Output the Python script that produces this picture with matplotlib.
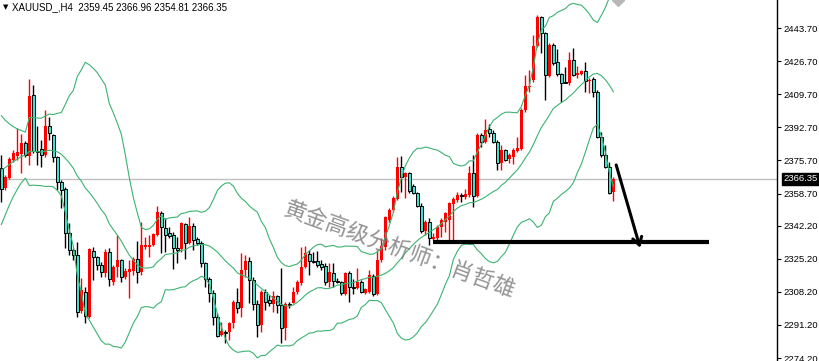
import numpy as np
import pandas as pd
import matplotlib
matplotlib.use("Agg")
import matplotlib.pyplot as plt

# XAUUSD H4 candles (oldest -> newest)
opens = [2371.8, 2361.5, 2366.7, 2375.9, 2378.0, 2379.0, 2384.7, 2378.0, 2409.3, 2380.5,
         2381.6, 2378.5, 2393.4, 2388.8, 2377.5, 2364.6, 2361.0, 2338.4, 2329.7, 2327.1,
         2298.4, 2308.1, 2295.3, 2329.2, 2326.1, 2322.0, 2317.9, 2328.7, 2313.3, 2321.0,
         2324.6, 2315.8, 2318.4, 2318.9, 2325.1, 2318.4, 2331.2, 2331.2, 2332.3, 2337.4,
         2348.7, 2341.0, 2338.4, 2337.4, 2330.7, 2330.2, 2343.0, 2333.3, 2342.0, 2335.3,
         2333.3, 2323.0, 2314.8, 2307.6, 2295.3, 2286.0, 2287.6, 2287.6, 2292.2, 2303.0,
         2299.9, 2319.4, 2324.1, 2314.3, 2302.0, 2291.2, 2308.1, 2304.0, 2302.0, 2306.1,
         2301.5, 2289.6, 2302.0, 2302.5, 2308.1, 2312.8, 2321.0, 2327.6, 2324.1, 2324.1,
         2322.5, 2321.5, 2313.3, 2317.9, 2313.8, 2313.3, 2307.1, 2317.9, 2310.7, 2310.2,
         2313.3, 2307.6, 2308.1, 2316.4, 2307.1, 2324.6, 2331.2, 2345.1, 2350.2, 2355.9,
         2372.3, 2367.2, 2369.2, 2362.6, 2359.0, 2352.3, 2339.5, 2344.1, 2335.3, 2335.9,
         2341.5, 2344.1, 2345.1, 2353.3, 2355.4, 2357.9, 2356.9, 2357.9, 2369.2, 2357.4,
         2388.8, 2385.2, 2391.8, 2389.8, 2385.2, 2374.4, 2381.1, 2376.4, 2377.5, 2380.5,
         2381.6, 2401.6, 2413.4, 2417.0, 2434.5, 2449.4, 2441.1, 2419.1, 2435.0, 2426.3,
         2420.1, 2416.0, 2415.5, 2427.3, 2419.6, 2420.1, 2421.6, 2416.5, 2417.5, 2410.9,
         2387.7, 2378.5, 2372.3, 2359.45]
highs = [2378.5, 2368.2, 2377.5, 2381.1, 2392.4, 2389.3, 2385.7, 2417.5, 2414.4, 2393.4,
         2386.2, 2401.6, 2398.0, 2389.3, 2378.0, 2365.7, 2362.0, 2343.6, 2330.7, 2333.8,
         2315.3, 2310.7, 2330.7, 2331.2, 2326.6, 2323.5, 2330.2, 2330.7, 2322.0, 2337.4,
         2325.1, 2320.5, 2324.6, 2326.1, 2334.3, 2344.1, 2336.4, 2337.4, 2338.4, 2352.3,
         2349.7, 2346.2, 2341.5, 2338.9, 2336.4, 2344.1, 2343.6, 2346.6, 2343.6, 2336.4,
         2334.3, 2323.5, 2315.8, 2309.2, 2297.3, 2292.7, 2288.6, 2292.7, 2304.0, 2310.2,
         2328.2, 2327.1, 2326.1, 2315.8, 2304.0, 2309.2, 2309.7, 2306.6, 2308.6, 2306.6,
         2320.5, 2303.0, 2303.0, 2310.7, 2314.3, 2331.2, 2331.7, 2329.7, 2328.7, 2329.2,
         2324.6, 2323.0, 2323.0, 2323.0, 2315.3, 2313.8, 2318.4, 2318.9, 2314.8, 2320.5,
         2314.3, 2310.2, 2319.4, 2317.4, 2329.7, 2335.9, 2347.2, 2351.3, 2357.4, 2377.5,
         2378.0, 2369.7, 2369.7, 2363.6, 2359.5, 2353.8, 2345.1, 2346.1, 2338.4, 2342.5,
         2346.1, 2349.2, 2354.4, 2356.9, 2359.5, 2359.0, 2361.0, 2372.8, 2378.5, 2389.8,
         2389.8, 2397.0, 2394.4, 2391.3, 2386.2, 2383.6, 2381.6, 2379.5, 2382.1, 2387.7,
         2402.6, 2419.6, 2422.2, 2440.1, 2450.4, 2449.9, 2441.7, 2436.0, 2436.0, 2432.9,
         2420.6, 2423.7, 2431.4, 2433.4, 2424.2, 2422.2, 2426.3, 2418.0, 2418.5, 2411.9,
         2390.3, 2383.6, 2374.9, 2366.96]
lows = [2354.4, 2360.5, 2366.2, 2374.9, 2375.9, 2369.2, 2377.5, 2373.4, 2379.5, 2373.4,
        2372.3, 2377.5, 2386.2, 2374.9, 2360.5, 2351.3, 2330.7, 2327.1, 2324.6, 2295.3,
        2297.3, 2292.2, 2294.8, 2314.3, 2319.4, 2315.8, 2315.8, 2311.2, 2311.7, 2315.8,
        2313.3, 2314.8, 2305.0, 2316.9, 2312.8, 2316.9, 2330.2, 2326.1, 2331.7, 2336.9,
        2328.2, 2328.7, 2335.9, 2319.9, 2323.0, 2328.7, 2325.1, 2332.8, 2329.7, 2332.3,
        2321.0, 2310.7, 2303.0, 2291.2, 2285.0, 2285.5, 2281.9, 2283.5, 2289.6, 2297.3,
        2295.3, 2315.8, 2302.5, 2298.9, 2285.0, 2287.6, 2298.9, 2300.9, 2297.9, 2297.3,
        2281.9, 2283.5, 2299.9, 2302.5, 2307.1, 2311.7, 2320.5, 2316.9, 2323.0, 2321.0,
        2319.4, 2311.7, 2310.7, 2310.7, 2312.8, 2306.6, 2306.6, 2303.0, 2307.1, 2309.7,
        2307.6, 2307.1, 2307.6, 2306.1, 2306.6, 2323.5, 2329.7, 2344.1, 2349.2, 2355.4,
        2359.5, 2356.4, 2359.0, 2358.5, 2351.8, 2338.4, 2337.4, 2332.3, 2334.8, 2334.8,
        2336.4, 2338.9, 2334.8, 2334.8, 2354.4, 2354.4, 2355.9, 2356.9, 2351.8, 2356.9,
        2382.6, 2384.7, 2387.7, 2384.7, 2370.8, 2370.8, 2375.4, 2374.4, 2373.9, 2380.0,
        2381.1, 2400.6, 2410.9, 2416.0, 2434.0, 2430.9, 2406.7, 2418.6, 2424.7, 2419.1,
        2405.7, 2415.5, 2414.4, 2419.1, 2418.0, 2419.6, 2410.9, 2410.3, 2408.3, 2387.2,
        2377.5, 2371.8, 2358.5, 2354.81]
closes = [2361.0, 2367.2, 2376.4, 2379.5, 2380.0, 2384.7, 2378.5, 2408.8, 2380.5, 2380.0,
          2378.5, 2393.4, 2389.8, 2377.5, 2364.6, 2360.5, 2338.4, 2329.7, 2327.1, 2297.9,
          2309.2, 2295.8, 2330.2, 2326.1, 2322.0, 2318.4, 2328.7, 2314.8, 2321.0, 2324.6,
          2315.8, 2318.9, 2320.0, 2325.1, 2318.4, 2332.3, 2332.3, 2332.3, 2337.9, 2349.2,
          2341.5, 2337.4, 2336.9, 2330.7, 2329.7, 2343.6, 2333.3, 2342.0, 2334.8, 2333.3,
          2323.0, 2314.8, 2307.6, 2295.3, 2285.5, 2288.1, 2287.1, 2292.2, 2303.0, 2299.9,
          2319.4, 2324.1, 2314.3, 2302.0, 2291.2, 2308.1, 2303.0, 2302.5, 2306.1, 2301.5,
          2289.6, 2302.0, 2301.5, 2308.1, 2313.3, 2321.0, 2328.2, 2324.1, 2323.5, 2322.0,
          2321.0, 2313.3, 2318.4, 2313.8, 2313.3, 2307.6, 2317.9, 2310.7, 2310.2, 2313.3,
          2308.1, 2309.7, 2316.9, 2307.1, 2324.6, 2331.7, 2346.6, 2350.2, 2356.4, 2372.3,
          2367.2, 2369.2, 2360.0, 2359.0, 2352.3, 2339.5, 2344.1, 2335.9, 2336.4, 2341.5,
          2345.1, 2348.7, 2353.8, 2355.9, 2357.9, 2357.4, 2358.5, 2369.2, 2357.4, 2388.8,
          2385.2, 2391.3, 2389.8, 2385.2, 2374.4, 2381.1, 2375.9, 2378.5, 2381.1, 2382.1,
          2401.6, 2413.9, 2413.9, 2434.5, 2449.4, 2441.1, 2419.6, 2435.0, 2425.7, 2420.1,
          2415.5, 2415.9, 2427.3, 2419.6, 2420.6, 2421.6, 2416.5, 2417.0, 2410.9, 2387.7,
          2378.5, 2372.3, 2359.0, 2366.35]

# closes before the visible window, estimated from where the bands sit at the left edge
warmup_closes = [2340, 2345, 2350, 2355, 2358, 2364, 2372, 2378, 2384, 2381,
                 2386, 2379, 2383, 2376, 2385, 2380, 2377, 2382, 2378]

tick_prices = [2443.70, 2426.70, 2409.70, 2392.70, 2375.70, 2358.70,
               2342.20, 2325.20, 2308.20, 2291.20, 2274.20]
header = "XAUUSD_,H4  2359.45 2366.96 2354.81 2366.35"
watermark = "黄金高级分析师：肖哲雄"

support_level = 2334.0
support_from, support_to = 107.9, 176.9
arrow_start = (153.7, 2373.4)
arrow_end = (159.7, 2330.8)

up_col = "#ff0000"
down_col = "#40e0d0"
band_col = "#3cb371"

# bollinger bands 20, 2
s = pd.Series(warmup_closes + closes, dtype=float)
mid = s.rolling(20).mean()
sd = s.rolling(20).std(ddof=0)
n = len(closes)
bb_mid = mid.values[-n:]
bb_up = (mid + 2 * sd).values[-n:]
bb_dn = (mid - 2 * sd).values[-n:]

o = np.array(opens)
h = np.array(highs)
l = np.array(lows)
c = np.array(closes)
x = np.arange(n)
up = c >= o
dn = ~up

fig = plt.figure(figsize=(8.19, 3.61), dpi=100)
ax = fig.add_axes([0, 0, 777 / 819, 1])
ax.set_xlim(-0.325, 193.9)
ax.set_ylim(2272.7, 2458.1)

ax.axhline(c[-1], color="#c0c0c0", lw=1, zorder=0)

ax.vlines(x[up], l[up], h[up], color=up_col, lw=1, zorder=2)
ax.vlines(x[dn], l[dn], h[dn], color="black", lw=1, zorder=2)

body = c - o
body = np.where(np.abs(body) < 0.4, np.where(up, 0.4, -0.4), body)
ax.bar(x[up], body[up], bottom=o[up], width=0.72, color=up_col, lw=0, zorder=3)
ax.bar(x[dn], body[dn], bottom=o[dn], width=0.7, facecolor=down_col,
       edgecolor="black", lw=0.7, zorder=3)

for band in (bb_up, bb_mid, bb_dn):
    ax.plot(x, band, color=band_col, lw=0.8, zorder=4)

# hand drawn support line and arrow
ax.hlines(support_level, support_from, support_to, color="black", lw=3, zorder=5)
ax.annotate("", xy=arrow_end, xytext=arrow_start,
            arrowprops=dict(arrowstyle="->,head_length=0.5,head_width=0.3",
                            color="black", lw=2.2, mutation_scale=11,
                            shrinkA=0, shrinkB=0), zorder=5)
ax.plot(154.2, 2458.1, marker="D", ms=6, color="#b8b8b8", clip_on=True, zorder=5)

ax.text(99.7, 2329.7, watermark, fontsize=16, family="Noto Sans CJK SC",
        color="#808080", alpha=0.85, rotation=-20, rotation_mode="anchor",
        ha="center", va="center", zorder=6)

for side in ("top", "left", "bottom"):
    ax.spines[side].set_visible(False)
ax.spines["right"].set_color("black")
ax.spines["right"].set_linewidth(1)
ax.set_xticks([])
ax.yaxis.tick_right()
ax.set_yticks(tick_prices)
ax.set_yticklabels([f"{v:.2f}" for v in tick_prices], fontsize=6.8,
                   family="Liberation Sans")
ax.tick_params(axis="y", length=3, width=0.8, pad=1.5, colors="black")

ax.annotate(f"{c[-1]:.2f}", xy=(1, c[-1]), xycoords=("axes fraction", "data"),
            xytext=(4.5, 0), textcoords="offset points", ha="left", va="center",
            fontsize=6.8, family="Liberation Sans", color="white",
            bbox=dict(boxstyle="square,pad=0.15", fc="black", ec="black"))

fig.text(3 / 819, 1 - 7 / 361, "▼", fontsize=5, va="center", family="DejaVu Sans")
fig.text(12 / 819, 1 - 7 / 361, header, fontsize=7, va="center",
         family="Liberation Sans")

fig.savefig("out.png", dpi=100)
